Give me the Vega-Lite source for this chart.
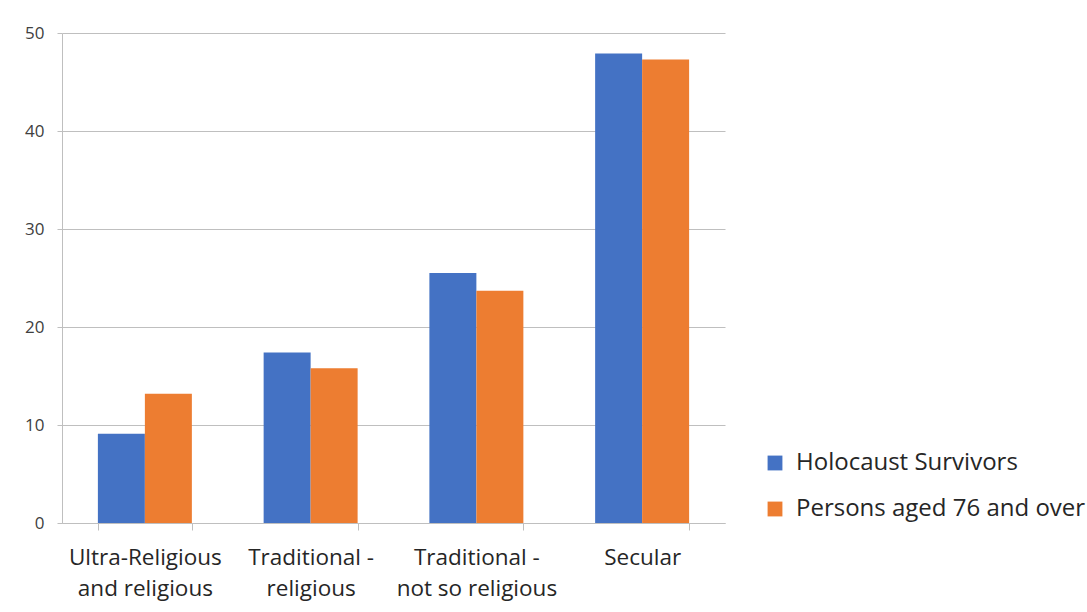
{
  "$schema": "https://vega.github.io/schema/vega-lite/v6.json",
  "width": 663,
  "height": 490,
  "autosize": {"type": "none"},
  "padding": {"left": 62, "top": 33, "right": 362, "bottom": 89},
  "background": "white",
  "config": {
    "view": {"stroke": null},
    "font": "Open Sans"
  },
  "data": {
    "values": [
      {"category": "Ultra-Religious and religious", "group": "Holocaust Survivors", "value": 9.1},
      {"category": "Ultra-Religious and religious", "group": "Persons aged 76 and over", "value": 13.2},
      {"category": "Traditional - religious", "group": "Holocaust Survivors", "value": 17.4},
      {"category": "Traditional - religious", "group": "Persons aged 76 and over", "value": 15.8},
      {"category": "Traditional - not so religious", "group": "Holocaust Survivors", "value": 25.5},
      {"category": "Traditional - not so religious", "group": "Persons aged 76 and over", "value": 23.7},
      {"category": "Secular", "group": "Holocaust Survivors", "value": 47.9},
      {"category": "Secular", "group": "Persons aged 76 and over", "value": 47.3}
    ]
  },
  "mark": {"type": "bar"},
  "encoding": {
    "x": {
      "field": "category",
      "type": "nominal",
      "sort": null,
      "scale": {"paddingInner": 0.433, "paddingOuter": 0.2165},
      "axis": {
        "title": null,
        "labelAngle": 0,
        "labelFontSize": 22.5,
        "labelColor": "#262626",
        "labelLineHeight": 31,
        "labelPadding": 16,
        "labelBaseline": "top",
        "tickBand": "extent",
        "tickSize": 7,
        "tickColor": "#bfbfbf",
        "domainColor": "#bfbfbf",
        "grid": false,
        "labelExpr": "datum.label == 'Ultra-Religious and religious' ? ['Ultra-Religious', 'and religious'] : datum.label == 'Traditional - religious' ? ['Traditional -', 'religious'] : datum.label == 'Traditional - not so religious' ? ['Traditional -', 'not so religious'] : datum.label"
      }
    },
    "xOffset": {"field": "group", "type": "nominal", "scale": {"paddingInner": 0, "paddingOuter": 0}},
    "y": {
      "field": "value",
      "type": "quantitative",
      "scale": {"domain": [0, 50]},
      "axis": {
        "title": null,
        "values": [0, 10, 20, 30, 40, 50],
        "labelFontSize": 17,
        "labelColor": "#404040",
        "labelPadding": 13,
        "tickSize": 5,
        "tickColor": "#bfbfbf",
        "domainColor": "#bfbfbf",
        "gridColor": "#bfbfbf",
        "grid": true
      }
    },
    "color": {
      "field": "group",
      "type": "nominal",
      "scale": {"domain": ["Holocaust Survivors", "Persons aged 76 and over"], "range": ["#4472C4", "#ED7D31"]},
      "legend": {
        "title": null,
        "orient": "none",
        "legendX": 701,
        "legendY": 418,
        "symbolType": "square",
        "symbolSize": 220,
        "symbolStrokeWidth": 0,
        "labelFontSize": 24,
        "labelColor": "#262626",
        "labelOffset": 9,
        "rowPadding": 22,
        "labelLimit": 400
      }
    }
  }
}
